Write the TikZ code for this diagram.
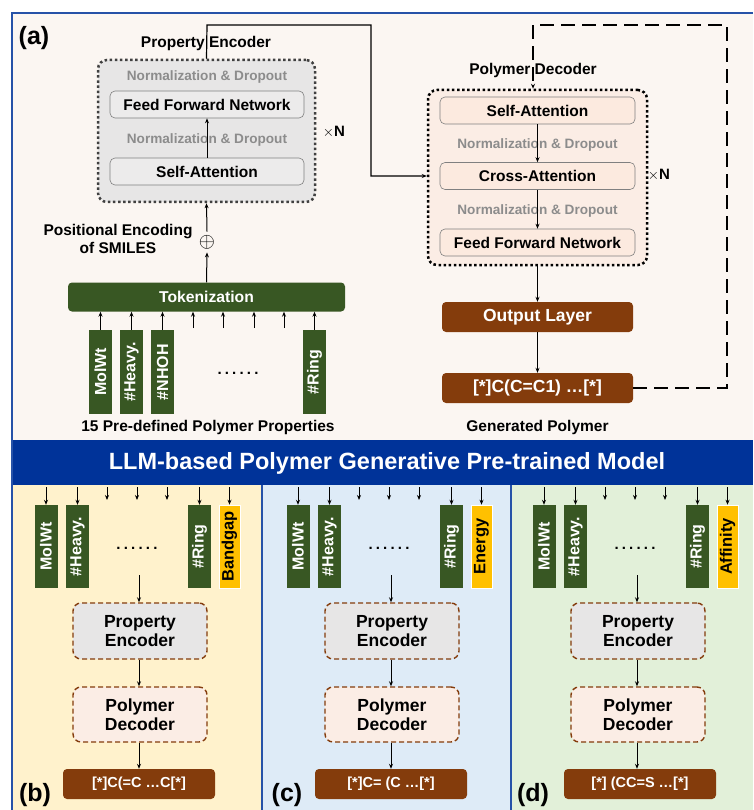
\documentclass[tikz,border=0pt]{standalone}
\usepackage{fontspec}
\setmainfont{Liberation Sans}
\usetikzlibrary{arrows.meta}
\definecolor{bannerblue}{HTML}{003399}
\definecolor{creambg}{HTML}{FBF6F2}
\definecolor{ybg}{HTML}{FFF2CC}
\definecolor{bbg}{HTML}{DEEBF7}
\definecolor{gbg}{HTML}{E2F0D9}
\definecolor{dkgreen}{HTML}{385723}
\definecolor{brownc}{HTML}{843C0C}
\definecolor{encfill}{HTML}{E7E6E6}
\definecolor{decfill}{HTML}{FBEDE5}
\definecolor{decinner}{HTML}{FCEADF}
\definecolor{normgray}{HTML}{8C8C8C}
\definecolor{goldc}{HTML}{FFC000}
\tikzset{
  fs/.style={font=\fontsize{#1}{#1}\selectfont\bfseries},
  arr/.style={-{Stealth[length=5pt,width=4pt]}, line width=1pt},
  encbox/.style={draw=black!50!gray, line width=2.5pt, dash pattern=on 2.5pt off 2.6pt, rounded corners=9pt, fill=encfill},
  decbox/.style={draw=black, line width=2.5pt, dash pattern=on 2.5pt off 2.6pt, rounded corners=9pt, fill=decfill},
  innerenc/.style={draw=gray, line width=0.6pt, rounded corners=5pt, fill=encfill!80!white, minimum width=194pt, minimum height=27pt, fs=15.5},
  innerdec/.style={draw=gray, line width=0.6pt, rounded corners=5pt, fill=decinner, minimum width=195pt, minimum height=27pt, fs=15.5},
  normtxt/.style={text=normgray, fs=13.6},
  propbox/.style={fill=dkgreen, text=white, minimum width=23pt, minimum height=84pt, inner sep=0pt, fs=16},
  goldbox/.style={fill=goldc, draw=white, line width=0.6pt, text=black, minimum width=21pt, minimum height=83pt, inner sep=0pt, fs=16.5},
  brownbox/.style={fill=brownc, text=white, rounded corners=4pt, minimum height=30pt, fs=17.5},
  smallbox/.style={line width=1.4pt, dash pattern=on 5pt off 3pt, draw=brownc, rounded corners=8pt, minimum width=134pt, minimum height=56pt, align=center, fs=17.5},
  lbl/.style={fs=25},
  spdots/.style={fs=15},
}
\begin{document}
\begin{tikzpicture}[x=1pt,y=-1pt]
\useasboundingbox (0,0) rectangle (753,810);
\fill[white] (0,0) rectangle (753,810);
% backgrounds
\fill[creambg] (12,13) rectangle (753,440);
\fill[ybg] (12,485) rectangle (262,810);
\fill[bbg] (262,485) rectangle (511,810);
\fill[gbg] (511,485) rectangle (753,810);
\fill[bannerblue] (12,440) rectangle (753,485);
\draw[bannerblue!85!white, line width=1.5pt] (753,13) -- (12,13) -- (12,810);
\draw[bannerblue!85!white, line width=1.5pt] (262,485) -- (262,810);
\draw[bannerblue!85!white, line width=1.5pt] (511,485) -- (511,810);
\node[text=white, fs=23.5] (banner) at (387,463) {LLM-based Polymer Generative Pre-trained Model};

% ---------- panel (a)
\node[lbl] (la) at (34,38) {(a)};
% encoder
\node[encbox, minimum width=217pt, minimum height=142pt] (enc) at (206.5,131) {};
\node[normtxt] (en1) at (207,77) {Normalization \& Dropout};
\node[innerenc] (effn) at (207,104.5) {Feed Forward Network};
\node[normtxt] (en2) at (207,140) {Normalization \& Dropout};
\node[innerenc] (esa) at (207,171.5) {Self-Attention};
\draw[arr] (esa.north) -- (effn.south);
\node[fs=15] (xn1) at (334,132) {$\times$N};
% decoder
\node[decbox, minimum width=219pt, minimum height=175pt] (dec) at (537.5,177.5) {};
\node[innerdec] (dsa) at (537.5,110.5) {Self-Attention};
\node[normtxt] (dn1) at (537.5,145) {Normalization \& Dropout};
\node[innerdec] (dca) at (537.5,176) {Cross-Attention};
\node[normtxt] (dn2) at (537.5,211) {Normalization \& Dropout};
\node[innerdec] (dffn) at (537.5,242.5) {Feed Forward Network};
\draw[arr] (dsa.south) -- (dca.north);
\draw[arr] (dca.south) -- (dffn.north);
\node[fs=15] (xn2) at (659,175) {$\times$N};
% connector encoder -> decoder
\coordinate (c1) at (207,25);
\coordinate (c2) at (371,25);
\coordinate (c3) at (371,176);
\draw[arr, line width=1.2pt] (enc.north) -- (c1) -- (c2) -- (c3) -- (dec.west |- c3);
\node[fs=15.5] (pel) at (206,43) {Property Encoder};
% positional encoding
\node[font=\fontsize{22}{22}\selectfont] (oplus) at (207,242) {$\oplus$};
\node[fs=15.5, align=center] (posl) at (118,239) {Positional Encoding\\[2pt]of SMILES};
\draw[arr] (oplus.north) -- (enc.south);
% tokenization
\node[fill=dkgreen, text=white, rounded corners=4pt, minimum width=277pt, minimum height=29pt, fs=15.7] (tok) at (206.5,297) {Tokenization};
\draw[arr] (tok.north) -- (oplus.south);
% properties
\node[propbox] (p1) at (100.5,372) {\rotatebox{90}{MolWt}};
\node[propbox] (p2) at (131.5,372) {\rotatebox{90}{\#Heavy.}};
\node[propbox] (p3) at (162.5,372) {\rotatebox{90}{\#NHOH}};
\node[propbox] (p4) at (314.5,372) {\rotatebox{90}{\#Ring}};
\node[spdots] (dots) at (238,373) {.\hspace{3.2pt}.\hspace{3.2pt}.\hspace{3.2pt}.\hspace{3.2pt}.\hspace{3.2pt}.};
\foreach \n in {p1,p2,p3,p4} \draw[arr] (\n.north) -- (\n.north |- tok.south);
\foreach \xx [count=\i] in {193,223,254,284} {
  \coordinate (e\i) at (\xx,328);
  \draw[arr] (e\i) -- (e\i |- tok.south);
}
\node[fs=15.5] (ppl) at (208,427) {15 Pre-defined Polymer Properties};
% output
\node[brownbox, minimum width=191pt] (outl) at (537.5,317) {Output Layer};
\node[brownbox, minimum width=191pt] (smi) at (537.5,388) {[*]C(C=C1) …[*]};
\node[fs=15.5] (gpl) at (537.5,427) {Generated Polymer};
\draw[arr] (dec.south) -- (outl.north);
\draw[arr] (outl.south) -- (smi.north);
% dashed loop
\coordinate (d1) at (727,388);
\coordinate (d2) at (727,25);
\coordinate (d3) at (533,25);
\draw[arr, dash pattern=on 14pt off 7pt, line width=1.6pt] (smi.east) -- (d1) -- (d2) -- (d3) -- (d3 |- dec.north);
\node[fs=15.5] (pdl) at (533,70) {Polymer Decoder};

% ---------- panels (b),(c),(d)
\foreach \ox/\spec/\tg/\sm/\oo in {0/Bandgap/b/{[*]C(=C …C[*]}/0, 252/Energy/c/{[*]C= (C …[*]}/0, 498/Affinity/d/{[*] (CC=S …[*]}/3} {
  \begin{scope}[xshift=\ox pt]
  \node[propbox, minimum height=83pt] (q1\tg) at (46,546.5) {\rotatebox{90}{MolWt}};
  \node[propbox, minimum height=83pt] (q2\tg) at (77.5,546.5) {\rotatebox{90}{\#Heavy.}};
  \node[propbox, minimum height=83pt] (q3\tg) at (199.5,546.5) {\rotatebox{90}{\#Ring}};
  \node[goldbox] (q4\tg) at (229.5,546.5) {\rotatebox{90}{\spec}};
  \node[spdots] (qd\tg) at (137,548) {.\hspace{3.2pt}.\hspace{3.2pt}.\hspace{3.2pt}.\hspace{3.2pt}.\hspace{3.2pt}.};
  \foreach \n in {q1,q2,q3,q4} {
    \draw[arr, line width=0.8pt] (\n\tg.north |- 0,487) -- (\n\tg.north);
  }
  \foreach \xx [count=\i] in {107,137,167} {
    \coordinate (s\i\tg) at (\xx,487);
    \draw[arr, line width=0.8pt] (s\i\tg) -- (\xx,500);
  }
  \coordinate (ea\tg) at (139,575);
  \node[smallbox, fill=encfill] (pe\tg) at (140,631) {Property\\[2pt]Encoder};
  \node[smallbox, fill=decfill, minimum height=55pt] (pd\tg) at (140,714.5) {Polymer\\[2pt]Decoder};
  \node[brownbox, minimum width=152pt, fs=14.5] (ob\tg) at (139+\oo,784) {\sm};
  \draw[arr] (ea\tg) -- (ea\tg |- pe\tg.north);
  \draw[arr] (pe\tg.south -| ea\tg) -- (ea\tg |- pd\tg.north);
  \draw[arr] (pd\tg.south -| ea\tg) -- (ea\tg |- ob\tg.north);
  \node[lbl] (lb\tg) at (35,795) {(\tg)};
  \end{scope}
}
\end{tikzpicture}
\end{document}
